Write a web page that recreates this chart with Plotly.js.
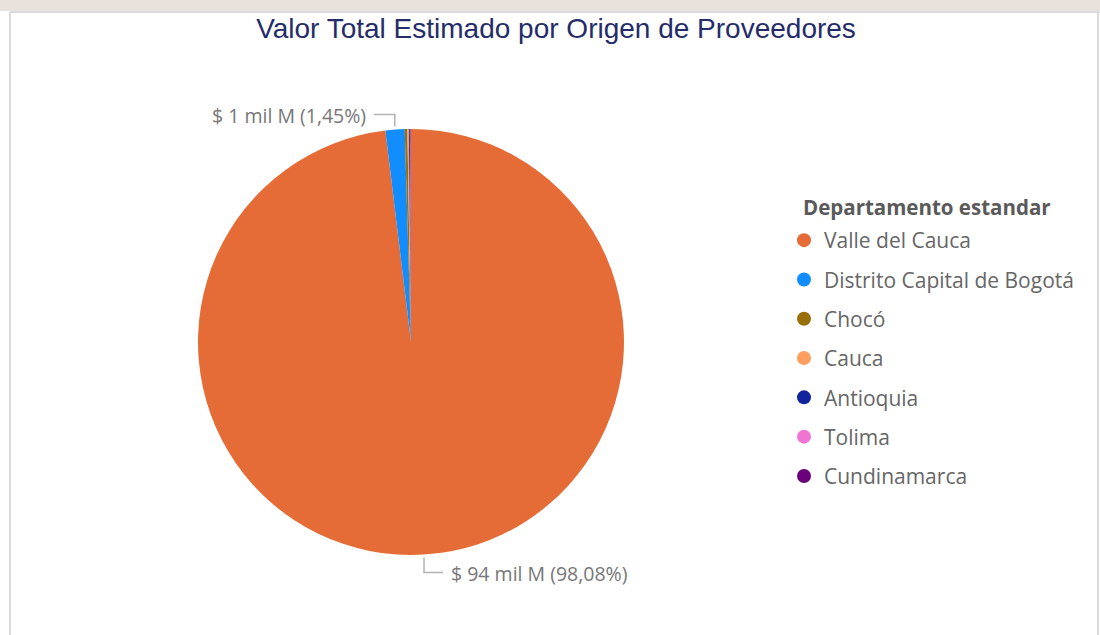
<!DOCTYPE html>
<html>
<head>
<meta charset="utf-8">
<script src="https://cdn.plot.ly/plotly-3.0.1.min.js"></script>
<style>
  html, body { margin: 0; padding: 0; background: #ffffff; }
  #chart { width: 1100px; height: 635px; }
</style>
</head>
<body>
<div id="chart"></div>
<script>
// ---- data ----
const categories = ["Valle del Cauca", "Distrito Capital de Bogotá", "Chocó", "Cauca", "Antioquia", "Tolima", "Cundinamarca"];
const values = [94157, 1392, 190, 110, 70, 45, 36]; // millones de pesos
const colors = ["#E66C37", "#118DFF", "#9A6E0A", "#FF9E5E", "#12239E", "#F075D3", "#6B007B"];
const chartTitle = "Valor Total Estimado por Origen de Proveedores";
const legendTitle = "Departamento estandar";
const labeledSlices = [0, 1];

// ---- layout constants ----
const W = 1100, H = 635;
const pieCx = 411, pieCy = 342, pieR = 213;
const px2x = p => p / W;
const px2y = p => 1 - p / H;
const FONT = "'Open Sans', 'Noto Sans', sans-serif";

const total = values.reduce((a, b) => a + b, 0);

const pieTrace = {
  type: "pie",
  labels: categories,
  values: values,
  marker: { colors: colors, line: { width: 0 } },
  sort: false,
  direction: "clockwise",
  rotation: 0,
  textinfo: "none",
  hoverinfo: "label+value+percent",
  showlegend: false,
  domain: { x: [px2x(pieCx - pieR), px2x(pieCx + pieR)], y: [px2y(pieCy + pieR), px2y(pieCy - pieR)] }
};

const legendTraces = categories.map((c, i) => ({
  type: "scatter",
  mode: "markers",
  x: [null], y: [null],
  name: c,
  legendgroup: "g" + i,
  marker: { color: colors[i], size: 14, symbol: "circle" },
  hoverinfo: "skip"
}));

// ---- leader lines and labels computed from slice angles ----
const shapes = [];
const annotations = [];
let cum = 0;
values.forEach((v, i) => {
  const frac = v / total;
  const mid = (cum + frac / 2) * 2 * Math.PI;
  cum += frac;
  if (!labeledSlices.includes(i)) return;
  const sx = pieCx + (pieR + 3) * Math.sin(mid);
  const sy = pieCy - (pieR + 3) * Math.cos(mid);
  const down = Math.cos(mid) < 0;
  const right = down;
  const ey = down ? sy + 15 : sy - 12;
  const ex = right ? sx + 19 : sx - 21;
  shapes.push({
    type: "path", xref: "paper", yref: "paper",
    path: `M ${px2x(sx)} ${px2y(sy)} L ${px2x(sx)} ${px2y(ey)} L ${px2x(ex)} ${px2y(ey)}`,
    line: { color: "#B3B3B3", width: 1.5 }
  });
  const pct = (frac * 100).toFixed(2).replace(".", ",");
  const txt = `$ ${Math.round(v / 1000)} mil M (${pct}%)`;
  annotations.push({
    xref: "paper", yref: "paper",
    x: px2x(right ? ex + 6 : ex - 6), y: px2y(ey + 1),
    xanchor: right ? "left" : "right", yanchor: "middle",
    text: txt, showarrow: false,
    font: { family: FONT, size: 19.5, color: "#777777" }
  });
});

annotations.push({
  xref: "paper", yref: "paper",
  x: px2x(801), y: px2y(207), xanchor: "left", yanchor: "middle",
  text: "<b>" + legendTitle + "</b>", showarrow: false,
  font: { family: FONT, size: 20.5, color: "#5A5A5A" }
});

// frame decoration
shapes.push(
  { type: "rect", xref: "paper", yref: "paper", x0: 0, x1: 1, y0: px2y(11), y1: 1, fillcolor: "#E9E1DC", line: { width: 0 }, layer: "below" },
  { type: "line", xref: "paper", yref: "paper", x0: px2x(10), x1: 1, y0: px2y(12), y1: px2y(12), line: { color: "#DADADA", width: 2 } },
  { type: "line", xref: "paper", yref: "paper", x0: px2x(10), x1: px2x(10), y0: 0, y1: px2y(12), line: { color: "#DADADA", width: 2 } },
  { type: "line", xref: "paper", yref: "paper", x0: px2x(1098), x1: px2x(1098), y0: 0, y1: px2y(12), line: { color: "#DADADA", width: 2 } }
);

const layout = {
  width: W, height: H,
  margin: { l: 0, r: 0, t: 0, b: 0 },
  paper_bgcolor: "#ffffff",
  plot_bgcolor: "rgba(0,0,0,0)",
  title: {
    text: chartTitle,
    x: px2x(556), xanchor: "center",
    xref: "paper", yref: "container", y: 1 - 28 / H, yanchor: "middle",
    font: { family: "'Liberation Sans', Arial, sans-serif", size: 28, color: "#252C6A" }
  },
  xaxis: { visible: false, domain: [0.95, 1] },
  yaxis: { visible: false, domain: [0, 0.05] },
  showlegend: true,
  legend: {
    x: px2x(784), xanchor: "left",
    y: px2y(220), yanchor: "top",
    font: { family: FONT, size: 21, color: "#666666" },
    bgcolor: "rgba(0,0,0,0)",
    traceorder: "grouped",
    tracegroupgap: 9,
    itemclick: false, itemdoubleclick: false
  },
  shapes: shapes,
  annotations: annotations
};

Plotly.newPlot("chart", [pieTrace].concat(legendTraces), layout, { displayModeBar: false, staticPlot: false });
</script>
</body>
</html>
